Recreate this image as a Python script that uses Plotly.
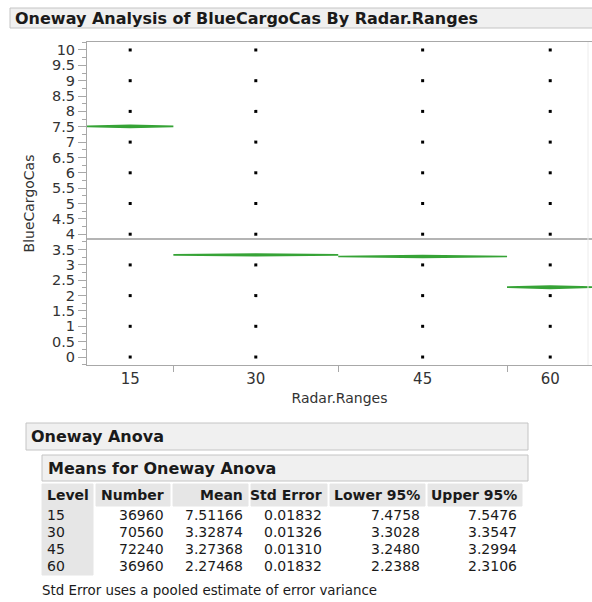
import plotly.graph_objects as go

# ---------------- data ----------------
levels = ["15", "30", "45", "60"]
counts = [36960, 70560, 72240, 36960]
means = [7.51166, 3.32874, 3.27368, 2.27468]
std_errors = [0.01832, 0.01326, 0.01310, 0.01832]
lower95 = [7.4758, 3.3028, 3.2480, 2.2388]
upper95 = [7.5476, 3.3547, 3.2994, 2.3106]
response_values = [0, 1, 2, 3, 4, 5, 6, 7, 8, 9, 10]
y_tick_values = [0, 0.5, 1, 1.5, 2, 2.5, 3, 3.5, 4, 4.5, 5, 5.5, 6, 6.5, 7, 7.5, 8, 8.5, 9, 9.5, 10]
y_tick_labels = ["0", "0.5", "1", "1.5", "2", "2.5", "3", "3.5", "4", "4.5", "5",
                 "5.5", "6", "6.5", "7", "7.5", "8", "8.5", "9", "9.5", "10"]
table_headers = ["Level", "Number", "Mean", "Std Error", "Lower 95%", "Upper 95%"]

# ---------------- geometry ----------------
W, H = 592, 602
L, R, T, B = 87, 592, 42, 365
FONT = "DejaVu Sans"
GREEN = "#36a336"

total = sum(counts)
edges = [0]
for c in counts:
    edges.append(edges[-1] + c)
centers = [(edges[i] + edges[i + 1]) / 2 for i in range(len(counts))]
px_per_unit = 506.4 / total
x_max = total - (593.4 - R) / px_per_unit
grand_mean = sum(c * m for c, m in zip(counts, means)) / total


def px2x(px):
    return (px - L) / (R - L)


def py2y(py):
    return (B - py) / (B - T)


fig = go.Figure()

# grand mean line
fig.add_trace(go.Scatter(x=[0, total], y=[grand_mean, grand_mean], mode="lines",
                         line=dict(color="#b4b4b4", width=2), hoverinfo="skip", showlegend=False))

# means diamonds
for i in range(len(levels)):
    x0, x1, xc = edges[i], edges[i + 1], centers[i]
    fig.add_trace(go.Scatter(
        x=[x0, xc, x1, xc, x0], y=[means[i], upper95[i], means[i], lower95[i], means[i]],
        mode="lines", fill="toself", fillcolor=GREEN,
        line=dict(color=GREEN, width=1.7), hoverinfo="skip", showlegend=False))

# data points
for i in range(len(levels)):
    fig.add_trace(go.Scatter(
        x=[centers[i]] * len(response_values), y=response_values, mode="markers",
        marker=dict(symbol="square", size=3, color="black", line=dict(width=0)),
        showlegend=False))

fig.update_layout(
    width=W, height=H,
    margin=dict(l=L, r=W - R, t=T, b=H - B),
    paper_bgcolor="white", plot_bgcolor="white",
    font=dict(family=FONT, color="#222222"),
    showlegend=False,
    xaxis=dict(range=[0, x_max], tickmode="array", tickvals=centers, ticktext=levels,
               ticks="", showgrid=False, zeroline=False, showline=True,
               linecolor="#a8a8a8", linewidth=1, mirror=True,
               tickfont=dict(size=15, color="#333333", family=FONT),
               minor=dict(tickmode="array", tickvals=edges[1:-1], ticks="outside",
                          ticklen=6, tickcolor="#a8a8a8", showgrid=False),
               title=dict(text="Radar.Ranges", font=dict(size=14, color="#333333"), standoff=6)),
    yaxis=dict(range=[-0.26, 10.26], tickmode="array", tickvals=y_tick_values,
               ticktext=y_tick_labels, ticks="outside", ticklen=8, tickcolor="#a8a8a8",
               showgrid=False, zeroline=False, showline=True, linecolor="#a8a8a8",
               linewidth=1, mirror=True,
               tickfont=dict(size=14.5, color="#333333", family=FONT),
               minor=dict(dtick=0.25, ticks="outside", ticklen=4, tickcolor="#a8a8a8",
                          showgrid=False),
               title=dict(text="BlueCargoCas", font=dict(size=14, color="#333333"), standoff=14)),
)

shapes = []
annotations = []


def box(x0, y0, x1, y1, fill, line="#c4c4c4"):
    shapes.append(dict(type="rect", xref="paper", yref="paper",
                       x0=px2x(x0), x1=px2x(x1), y0=py2y(y1), y1=py2y(y0),
                       fillcolor=fill, line=dict(color=line, width=1), layer="above"))


def text(s, x, y, anchor="left", size=14, bold=False, color="#1a1a1a"):
    annotations.append(dict(text=("<b>%s</b>" % s) if bold else s, xref="paper", yref="paper",
                            x=px2x(x), y=py2y(y), xanchor=anchor, yanchor="middle",
                            showarrow=False, font=dict(size=size, color=color, family=FONT)))


# title bar
box(10, 8, 640, 28, "#f0f0f0")
text("Oneway Analysis of BlueCargoCas By Radar.Ranges", 13, 18, size=16, bold=True)

# faint frame line at right
shapes.append(dict(type="line", xref="paper", yref="paper", x0=px2x(588), x1=px2x(588),
                   y0=py2y(B), y1=py2y(T), line=dict(color="#ececec", width=1)))

# Oneway Anova boxes
box(26, 423, 528, 450, "#f0f0f0")
text("Oneway Anova", 29, 437, size=16, bold=True)
box(42, 455, 528, 481, "#f0f0f0")
text("Means for Oneway Anova", 46, 468, size=16, bold=True)

# header cells
header_cells = [(42, 93), (96, 170), (173, 248), (251, 327), (330, 425), (428, 522)]
for (a, b_) in header_cells:
    box(a, 484, b_, 506, "#e6e6e6", line="#e6e6e6")
# level column background
box(42, 506, 93, 575, "#e6e6e6", line="#e6e6e6")

right_edges = [None, 166, 245, 324, 422, 519]
hy = 495
text(table_headers[0], 45, hy, size=14, bold=True)
for j in range(1, len(table_headers)):
    text(table_headers[j], right_edges[j], hy, anchor="right", size=14, bold=True)

row_y = [515, 532, 549, 566]
for i in range(len(levels)):
    y = row_y[i]
    text(levels[i], 45, y, size=14)
    text(str(counts[i]), right_edges[1], y, anchor="right", size=14)
    text("%.5f" % means[i], right_edges[2], y, anchor="right", size=14)
    text("%.5f" % std_errors[i], right_edges[3], y, anchor="right", size=14)
    text("%.4f" % lower95[i], right_edges[4], y, anchor="right", size=14)
    text("%.4f" % upper95[i], right_edges[5], y, anchor="right", size=14)

text("Std Error uses a pooled estimate of error variance", 40, 590, size=13.4)

fig.update_layout(shapes=shapes, annotations=annotations)
fig.write_html("out.html", config={"displayModeBar": False},
               post_script="document.body.style.margin='0';document.body.style.padding='0';")
